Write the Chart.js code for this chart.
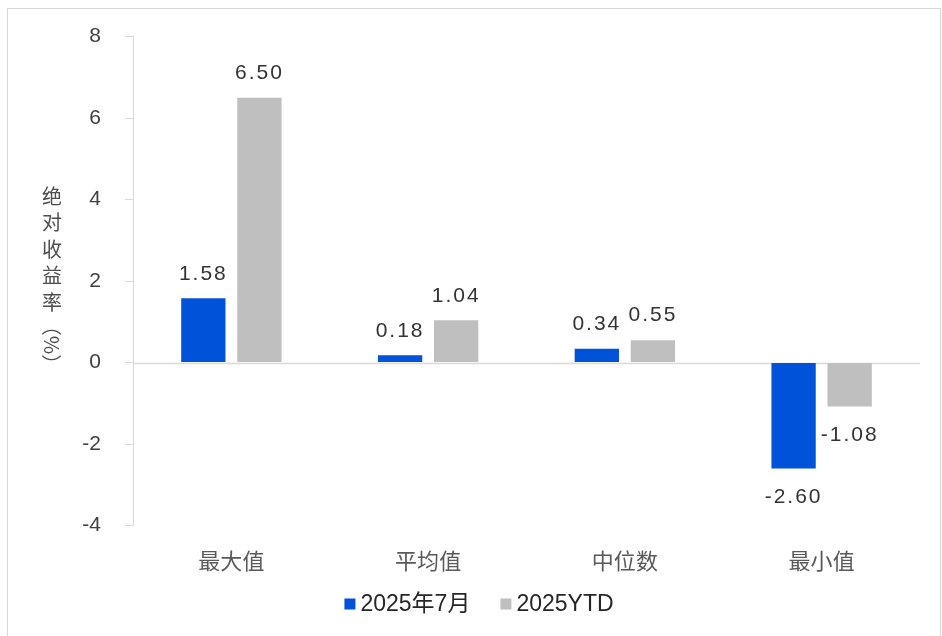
<!DOCTYPE html>
<html>
<head>
<meta charset="utf-8">
<script src="https://cdn.jsdelivr.net/npm/chart.js"></script>
<style>
  html, body { margin: 0; padding: 0; background: #fff; }
  #wrap { position: relative; width: 942px; height: 636px; }
</style>
</head>
<body>
<div id="wrap"><canvas id="chart" width="942" height="636"></canvas></div>
<script>
const categories = ['最大值', '平均值', '中位数', '最小值'];
const july2025 = [1.58, 0.18, 0.34, -2.60];
const ytd2025 = [6.50, 1.04, 0.55, -1.08];
const seriesNames = ['2025年7月', '2025YTD'];
const seriesColors = ['#0052d9', '#bfbfbf'];
const yTitleChars = ['绝', '对', '收', '益', '率'];

const NUM_FONT = '"Liberation Sans", Arial, "Noto Sans CJK SC", sans-serif';
const CJK_FONT = '"Noto Sans CJK SC", sans-serif';

// frame, zero line, stacked y title and the legend under the chart
const decorPlugin = {
  id: 'decor',
  beforeDraw(chart) {
    const ctx = chart.ctx;
    ctx.save();
    ctx.strokeStyle = '#d6d6d6';
    ctx.lineWidth = 1;
    ctx.strokeRect(7.5, 8.5, 933, 640);
    ctx.restore();
  },
  beforeDatasetsDraw(chart) {
    const ctx = chart.ctx;
    const area = chart.chartArea;
    const y0 = Math.round(chart.scales.y.getPixelForValue(0)) + 0.5;
    ctx.save();
    ctx.strokeStyle = '#d9d9d9';
    ctx.lineWidth = 1.5;
    ctx.beginPath();
    ctx.moveTo(area.left, y0);
    ctx.lineTo(area.right, y0);
    ctx.stroke();
    ctx.restore();
  },
  afterDraw(chart) {
    const ctx = chart.ctx;
    ctx.save();
    ctx.fillStyle = '#4d4d4d';
    ctx.font = '20px ' + CJK_FONT;
    ctx.textAlign = 'center';
    ctx.textBaseline = 'middle';
    yTitleChars.forEach((c, i) => {
      ctx.fillText(c, 52, 196 + i * 26.5);
    });
    ctx.save();
    ctx.translate(52, 345);
    ctx.rotate(Math.PI / 2);
    ctx.fillText('（%）', 0, 0);
    ctx.restore();

    // legend
    ctx.font = '23px ' + NUM_FONT;
    ctx.textAlign = 'left';
    const box = 11, gap = 5, itemGap = 30, ly = 604;
    const widths = chart.data.datasets.map(ds => box + gap + ctx.measureText(ds.label).width);
    const total = widths.reduce((a, b) => a + b, 0) + itemGap * (widths.length - 1);
    let x = 479 - total / 2;
    chart.data.datasets.forEach((ds, i) => {
      ctx.fillStyle = ds.backgroundColor;
      ctx.fillRect(x, ly - box / 2, box, box);
      ctx.fillStyle = '#262626';
      ctx.fillText(ds.label, x + box + gap, ly + 1);
      x += widths[i] + itemGap;
    });
    ctx.restore();
  }
};

// value labels on the bars
const valuePlugin = {
  id: 'values',
  afterDatasetsDraw(chart) {
    const ctx = chart.ctx;
    ctx.save();
    ctx.fillStyle = '#333333';
    ctx.font = '21px ' + NUM_FONT;
    ctx.textAlign = 'center';
    if ('letterSpacing' in ctx) ctx.letterSpacing = '2px';
    chart.data.datasets.forEach((ds, i) => {
      chart.getDatasetMeta(i).data.forEach((bar, j) => {
        const v = ds.data[j];
        const txt = v.toFixed(2);
        if (v >= 0) {
          ctx.textBaseline = 'bottom';
          ctx.fillText(txt, bar.x, bar.y - 14);
        } else {
          ctx.textBaseline = 'top';
          ctx.fillText(txt, bar.x, bar.y + 18);
        }
      });
    });
    ctx.restore();
  }
};

new Chart(document.getElementById('chart'), {
  type: 'bar',
  data: {
    labels: categories,
    datasets: [
      {
        label: seriesNames[0],
        data: july2025,
        backgroundColor: seriesColors[0],
        categoryPercentage: 0.57,
        barPercentage: 0.79
      },
      {
        label: seriesNames[1],
        data: ytd2025,
        backgroundColor: seriesColors[1],
        categoryPercentage: 0.57,
        barPercentage: 0.79
      }
    ]
  },
  options: {
    responsive: false,
    animation: false,
    layout: { padding: { top: 11, right: 22, bottom: 48, left: 0 } },
    plugins: {
      legend: { display: false },
      tooltip: { enabled: false }
    },
    scales: {
      x: {
        grid: { display: false },
        border: { display: false },
        ticks: {
          color: '#595959',
          padding: 14,
          font: { size: 22, family: CJK_FONT }
        }
      },
      y: {
        min: -4,
        max: 8,
        ticks: {
          stepSize: 2,
          padding: 24,
          color: '#404040',
          font: { size: 21, family: NUM_FONT }
        },
        grid: { drawOnChartArea: false, tickLength: 8, color: '#d9d9d9' },
        border: { color: '#d9d9d9' },
        afterFit(scale) { scale.width = 133; }
      }
    }
  },
  plugins: [decorPlugin, valuePlugin]
});
</script>
</body>
</html>
